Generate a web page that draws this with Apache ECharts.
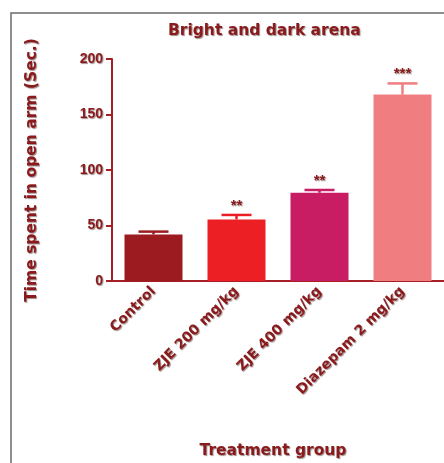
<!DOCTYPE html>
<html>
<head>
<meta charset="utf-8">
<script src="https://cdn.jsdelivr.net/npm/echarts@6/dist/echarts.min.js"></script>
<style>
  html, body { margin: 0; padding: 0; background: #fff; }
  #chart { width: 444px; height: 463px; }
</style>
</head>
<body>
<div id="chart"></div>
<script>
// Time spent in open arm, per treatment group (mean, upper SEM, significance)
const categories = ['Control', 'ZJE 200 mg/kg', 'ZJE 400 mg/kg', 'Diazepam 2 mg/kg'];
const meanValues = [42, 55.5, 79.5, 168];
const errorValues = [2.5, 4, 2.5, 10];
const significance = ['', '**', '**', '***'];
const barColors = ['#9c1b21', '#ec1f25', '#c81c63', '#f07d80'];
const yTicks = [0, 50, 100, 150, 200];

const textColor = '#8a1a1c';
const axisColor = '#a61e26';
const wideFont = '"DejaVu Sans", "Liberation Sans", sans-serif';
const narrowFont = '"Liberation Sans", Arial, sans-serif';
const shadow = { textShadowColor: 'rgba(40,0,0,0.45)', textShadowBlur: 1, textShadowOffsetX: 1, textShadowOffsetY: 1 };

const chart = echarts.init(document.getElementById('chart'), null, { renderer: 'canvas' });

chart.setOption({
  animation: false,
  backgroundColor: '#ffffff',
  title: {
    text: 'Bright and dark arena',
    left: 163,
    top: 18,
    textStyle: Object.assign({ color: textColor, fontFamily: wideFont, fontWeight: 'bold', fontSize: 15.5 }, shadow)
  },
  graphic: [{
    type: 'rect',
    shape: { x: 11, y: 13, width: 600, height: 600 },
    style: { fill: 'none', stroke: '#6a6a6a', lineWidth: 1.5 },
    silent: true,
    z: -1
  }],
  grid: { left: 112, right: 0, top: 59, bottom: 182, containLabel: false },
  xAxis: {
    type: 'category',
    data: categories,
    name: 'Treatment group',
    nameLocation: 'middle',
    nameGap: 162,
    nameTextStyle: Object.assign({ color: textColor, fontFamily: wideFont, fontWeight: 'bold', fontSize: 15.5, padding: [0, 10, 0, 0] }, shadow),
    axisLine: { lineStyle: { color: axisColor, width: 2 } },
    axisTick: { alignWithLabel: true, length: 6, lineStyle: { color: axisColor, width: 2 } },
    axisLabel: Object.assign({
      rotate: 45, margin: 8, color: textColor, fontFamily: wideFont, fontWeight: 'bold', fontSize: 14
    }, shadow)
  },
  yAxis: {
    type: 'value',
    min: 0,
    max: yTicks[yTicks.length - 1],
    interval: yTicks[1] - yTicks[0],
    name: 'Time spent in open arm (Sec.)',
    nameLocation: 'middle',
    nameGap: 72,
    nameTextStyle: Object.assign({ color: textColor, fontFamily: wideFont, fontWeight: 'bold', fontSize: 15.5 }, shadow),
    splitLine: { show: false },
    axisLine: { show: true, lineStyle: { color: axisColor, width: 2 } },
    axisTick: { show: true, length: 6, lineStyle: { color: axisColor, width: 2 } },
    axisLabel: Object.assign({
      margin: 9, color: textColor, fontFamily: narrowFont, fontWeight: 'bold', fontSize: 14
    }, shadow)
  },
  series: [
    {
      type: 'bar',
      barWidth: 58,
      data: meanValues.map((v, i) => ({ value: v, itemStyle: { color: barColors[i] } })),
      z: 2
    },
    {
      // upper error bar with cap and significance stars
      type: 'custom',
      data: meanValues.map((v, i) => [i, v, v + errorValues[i]]),
      renderItem: function (params, api) {
        const x = api.coord([api.value(0), 0])[0];
        const yBase = api.coord([api.value(0), api.value(1)])[1];
        const yTop = api.coord([api.value(0), api.value(2)])[1];
        const color = barColors[params.dataIndex];
        const half = 15;
        const children = [
          { type: 'line', shape: { x1: x, y1: yBase, x2: x, y2: yTop }, style: { stroke: color, lineWidth: 2.5 } },
          { type: 'line', shape: { x1: x - half, y1: yTop, x2: x + half, y2: yTop }, style: { stroke: color, lineWidth: 2.5 } }
        ];
        const stars = significance[params.dataIndex];
        if (stars) {
          children.push({
            type: 'text',
            style: {
              text: stars, x: x, y: yTop - 2,
              align: 'center', verticalAlign: 'bottom',
              fill: textColor, font: 'bold 15px ' + narrowFont,
              textShadowColor: 'rgba(40,0,0,0.45)', textShadowBlur: 1, textShadowOffsetX: 1, textShadowOffsetY: 1
            }
          });
        }
        return { type: 'group', children };
      },
      z: 3
    }
  ]
});
</script>
</body>
</html>
